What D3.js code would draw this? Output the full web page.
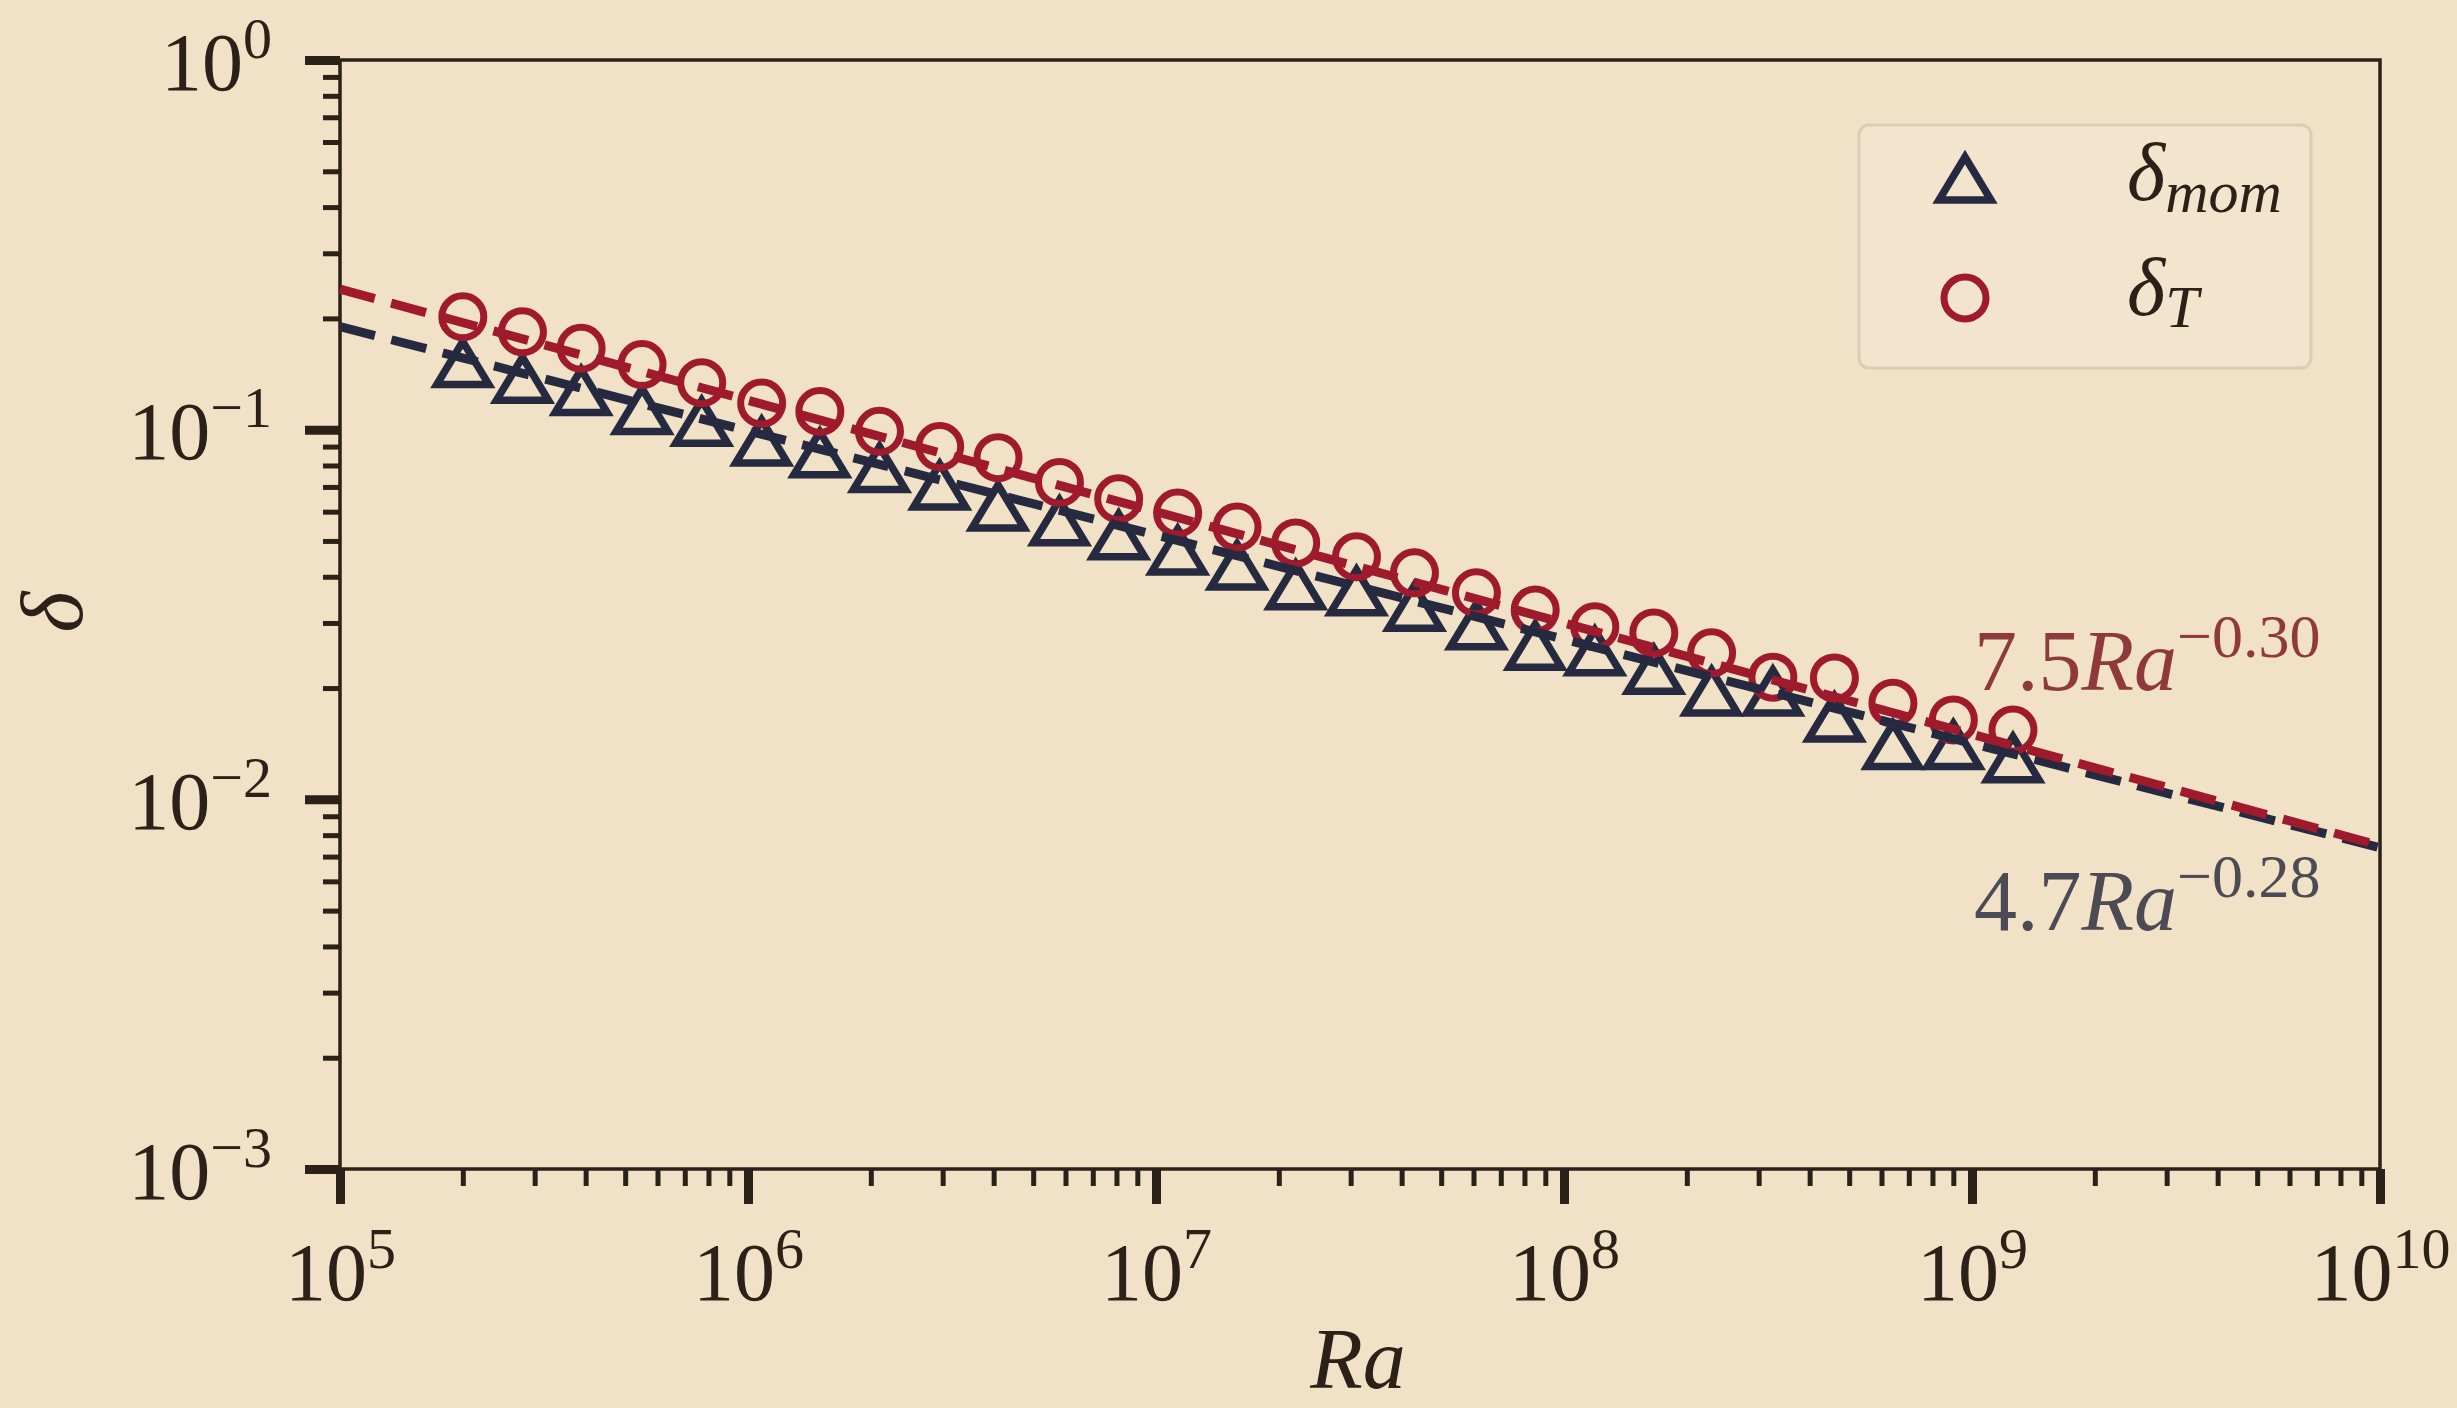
<!DOCTYPE html>
<html>
<head>
<meta charset="utf-8">
<script src="https://cdn.jsdelivr.net/npm/d3@7"></script>
<style>
  body { margin: 0; background: #f1e1c6; }
  svg { display: block; }
  text { font-family: "Liberation Serif", "DejaVu Serif", serif; }
</style>
</head>
<body>
<script>
// Rayleigh numbers of the runs
var raValues = [2.0e5, 2.8e5, 3.9e5, 5.5e5, 7.7e5, 1.08e6, 1.5e6, 2.1e6, 2.95e6,
  4.1e6, 5.8e6, 8.1e6, 1.13e7, 1.58e7, 2.2e7, 3.1e7, 4.3e7, 6.1e7, 8.5e7,
  1.19e8, 1.66e8, 2.3e8, 3.25e8, 4.6e8, 6.4e8, 9.0e8, 1.26e9];

// thermal boundary layer thickness
var deltaT = [0.202, 0.184, 0.166, 0.150, 0.134, 0.118, 0.112, 0.099, 0.090,
  0.084, 0.072, 0.065, 0.0595, 0.0545, 0.0494, 0.0453, 0.041, 0.0362, 0.0325,
  0.0293, 0.0282, 0.0249, 0.0214, 0.0213, 0.0182, 0.0164, 0.0154];

// momentum boundary layer thickness
var deltaMom = [0.150, 0.136, 0.126, 0.112, 0.104, 0.092, 0.0855, 0.078, 0.070,
  0.0614, 0.056, 0.0513, 0.0467, 0.0425, 0.0376, 0.0362, 0.0329, 0.0293, 0.0258,
  0.0249, 0.0222, 0.0194, 0.0194, 0.0165, 0.0139, 0.0139, 0.0128];

// fitted power laws, end points
var fitRa = [1e5, 1e10];
var fitT = [0.24, 0.0075];
var fitMom = [0.19, 0.0074];

var xTickExp = [5, 6, 7, 8, 9, 10];
var yTickExp = [0, -1, -2, -3];

var red = "#9f1a2c";
var navy = "#262a40";
var ink = "#2b2118";

var margin = {top: 60, right: 77, bottom: 239, left: 340};
var width = 2457 - margin.left - margin.right;
var height = 1408 - margin.top - margin.bottom;

var svg = d3.select("body")
  .append("svg")
    .attr("width", 2457)
    .attr("height", 1408);

var canvas = svg.append("g")
  .attr("transform", "translate(" + margin.left + "," + margin.top + ")");

var x = d3.scaleLog().domain([1e5, 1e10]).range([0, width]);
var y = d3.scaleLog().domain([1e-3, 1]).range([height, 0]);

var xMajor = xTickExp.map(function(e) { return Math.pow(10, e); });
var yMajor = yTickExp.map(function(e) { return Math.pow(10, e); });
var xMinor = x.ticks().filter(function(v) { return xMajor.indexOf(v) < 0; });
var yMinor = y.ticks().filter(function(v) { return yMajor.indexOf(v) < 0; });

// write 10^e as text with a raised exponent
function powLabel(text, exp) {
  text.text(null);
  text.append("tspan").text("10");
  text.append("tspan")
    .attr("dy", -32)
    .attr("font-size", 58)
    .text(String(exp).replace("-", "\u2212"));
}

function styleTicks(g, w) {
  g.select(".domain").remove();
  g.selectAll(".tick line")
    .attr("stroke", ink)
    .attr("stroke-width", w);
  g.selectAll(".tick text")
    .attr("fill", ink)
    .attr("font-size", 82);
}

// minor ticks
canvas.append("g")
  .attr("transform", "translate(0," + height + ")")
  .call(d3.axisBottom(x).tickValues(xMinor).tickSize(17).tickFormat(""))
  .call(styleTicks, 5);

canvas.append("g")
  .call(d3.axisLeft(y).tickValues(yMinor).tickSize(17).tickFormat(""))
  .call(styleTicks, 5);

// major ticks
var xAxis = canvas.append("g")
  .attr("transform", "translate(0," + height + ")")
  .call(d3.axisBottom(x).tickValues(xMajor).tickSize(35))
  .call(styleTicks, 9);

xAxis.selectAll(".tick text")
  .attr("y", 131)
  .attr("dy", 0)
  .attr("text-anchor", "middle")
  .each(function(d, i) { powLabel(d3.select(this), xTickExp[i]); });

var yAxis = canvas.append("g")
  .call(d3.axisLeft(y).tickValues(yMajor).tickSize(35))
  .call(styleTicks, 9);

yAxis.selectAll(".tick text")
  .attr("x", -68)
  .attr("dy", 29)
  .attr("text-anchor", "end")
  .each(function(d, i) { powLabel(d3.select(this), yTickExp[i]); });

// frame
canvas.append("rect")
  .attr("width", width)
  .attr("height", height)
  .attr("fill", "none")
  .attr("stroke", ink)
  .attr("stroke-width", 3.5);

var triPath = "M0,-23L26,20L-26,20Z";

// markers
canvas.append("g")
  .selectAll("path")
  .data(raValues)
  .enter()
    .append("path")
      .attr("d", triPath)
      .attr("transform", function(d, i) {
        return "translate(" + x(d) + "," + y(deltaMom[i]) + ")";
      })
      .attr("fill", "none")
      .attr("stroke", navy)
      .attr("stroke-width", 7.5);

canvas.append("g")
  .selectAll("circle")
  .data(raValues)
  .enter()
    .append("circle")
      .attr("cx", function(d) { return x(d); })
      .attr("cy", function(d, i) { return y(deltaT[i]); })
      .attr("r", 21)
      .attr("fill", "none")
      .attr("stroke", red)
      .attr("stroke-width", 7);

// fit lines
var line = d3.line()
  .x(function(d) { return x(d[0]); })
  .y(function(d) { return y(d[1]); });

canvas.append("path")
  .attr("d", line(d3.zip(fitRa, fitMom)))
  .attr("fill", "none")
  .attr("stroke", navy)
  .attr("stroke-width", 9)
  .attr("stroke-dasharray", "36,17");

canvas.append("path")
  .attr("d", line(d3.zip(fitRa, fitT)))
  .attr("fill", "none")
  .attr("stroke", red)
  .attr("stroke-width", 9)
  .attr("stroke-dasharray", "36,17");

// fit annotations
function fitLabel(px, py, coef, exp, colour) {
  var t = svg.append("text")
    .attr("x", px)
    .attr("y", py)
    .attr("fill", colour)
    .attr("font-size", 86);
  t.append("tspan").text(coef);
  t.append("tspan").attr("font-style", "italic").text("Ra");
  t.append("tspan")
    .attr("dy", -33)
    .attr("font-size", 62)
    .text(exp);
}
fitLabel(1974, 690, "7.5", "\u22120.30", "#8e3a3c");
fitLabel(1974, 930, "4.7", "\u22120.28", "#4b4a55");

// axis labels
svg.append("text")
  .attr("x", 1358)
  .attr("y", 1388)
  .attr("text-anchor", "middle")
  .attr("font-size", 86)
  .attr("font-style", "italic")
  .attr("fill", ink)
  .text("Ra");

svg.append("text")
  .attr("transform", "translate(82,612) rotate(-90)")
  .attr("text-anchor", "middle")
  .attr("font-size", 88)
  .attr("font-style", "italic")
  .attr("fill", ink)
  .text("\u03b4");

// legend
var legend = svg.append("g");

legend.append("rect")
  .attr("x", 1859)
  .attr("y", 125)
  .attr("width", 452)
  .attr("height", 243)
  .attr("rx", 10)
  .attr("fill", "#f3e5cd")
  .attr("stroke", "#dacdb5")
  .attr("stroke-width", 3);

legend.append("path")
  .attr("d", triPath)
  .attr("transform", "translate(1965,180)")
  .attr("fill", "none")
  .attr("stroke", navy)
  .attr("stroke-width", 7.5);

legend.append("circle")
  .attr("cx", 1965)
  .attr("cy", 298)
  .attr("r", 21)
  .attr("fill", "none")
  .attr("stroke", red)
  .attr("stroke-width", 7);

var legendNames = [["mom", 200], ["T", 315]];
legendNames.forEach(function(n) {
  var t = legend.append("text")
    .attr("x", 2127)
    .attr("y", n[1])
    .attr("font-size", 82)
    .attr("font-style", "italic")
    .attr("fill", ink);
  t.append("tspan").text("\u03b4");
  t.append("tspan")
    .attr("dy", 12)
    .attr("font-size", 60)
    .text(n[0]);
});
</script>
</body>
</html>
